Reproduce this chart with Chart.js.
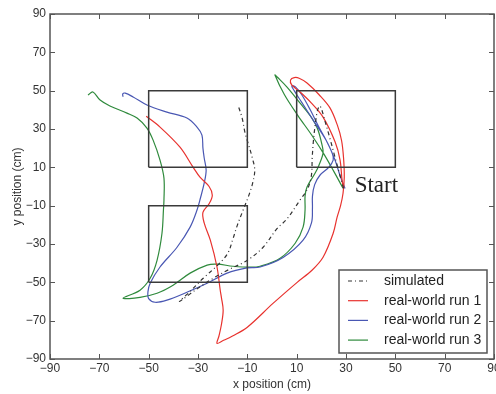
<!DOCTYPE html>
<html>
<head>
<meta charset="utf-8">
<script src="https://cdn.jsdelivr.net/npm/chart.js@4/dist/chart.umd.min.js"></script>
<style>
  html, body { margin: 0; padding: 0; background: #fff; }
  #wrap { width: 496px; height: 394px; }
</style>
</head>
<body>
<div id="wrap"><canvas id="pathChart" width="496" height="394"></canvas></div>
<script>
// axis range
const axisMin = -90;
const axisMax = 90;
const tickStep = 20;

// series labels
const seriesLabels = ['simulated', 'real-world run 1', 'real-world run 2', 'real-world run 3'];

// simulated path (cm)
const simX = [29, 27.5, 25.6, 23.5, 21.5, 19.5, 18.5, 17.5, 16.8, 16.3, 16, 14.5, 11.4, 6, 2, -3.6, -10, -17, -24, -31, -37.5,
  -33, -28, -22, -18, -16, -14, -11.7, -9.5, -8, -7, -8, -9.7, -11, -12.1, -13.8];
const simY = [-1, 6, 15, 25, 34, 42, 40, 32, 24, 15, 6, -1, -7, -17, -22, -31.7, -38.5, -43, -48, -54, -60,
  -54.5, -48, -41, -35, -28, -20, -12.3, -5, 1, 8.5, 15, 22.6, 28.4, 35.7, 42.5];

// real-world run 1
const run1X = [29, 28.4, 27.6, 25.6, 20.7, 16, 11.4, 8, 7.5, 9, 11, 14.2, 19, 23.5, 26.5, 28.2, 29, 29.3, 28.8, 27.8, 26.4,
  24.8, 20.7, 16.2, 10.2, 0.4, -10, -16, -20, -22.3, -21.5, -20.5, -19.8, -20.5, -21, -22.3, -25, -27.5, -28, -25.5,
  -24.2, -25.5, -29.2, -32, -37.3, -45.4, -51];
const run1Y = [-1, 3.3, 13.8, 23.2, 36.2, 43.5, 49.3, 53, 55.5, 56.8, 56.5, 54, 48, 41, 32, 24, 15, 5, -3.5, -10, -16,
  -24.4, -36.9, -43.7, -50, -61, -73.4, -78, -80.5, -81.8, -78, -72, -64.6, -58, -54, -42, -28, -19, -13.5, -9,
  -4.5, 0, 4.9, 10.1, 20.5, 31, 36.7];

// real-world run 2
const run2X = [29.6, 27.5, 25.5, 22, 17, 12, 9, 8, 9.5, 12, 15.5, 19, 22, 24.5, 24.8, 23, 19.5, 17.3, 16.4, 16.4, 16,
  12.6, 4.5, -4.8, -10.1, -18.2, -26.3, -34.5, -42.6, -47.4, -50, -50.3, -49.4, -45.4, -38.5, -33.2, -30.4, -29,
  -27.5, -26.7, -27.5, -28, -28.4, -30.4, -34.5, -42.6, -50.7, -56.3, -59.5, -60.5, -60.4];
const run2Y = [-1, 6, 14, 24, 34, 44, 50, 52.5, 52, 48, 40, 31, 24, 17, 13.8, 10, 6, 1, -5, -11, -19,
  -28, -37, -42, -42.5, -45.2, -50.5, -55.2, -59.3, -60.4, -58.5, -55, -50.5, -42, -31.7, -21.2, -12.3, -6,
  1.7, 8.5, 15, 20, 26.8, 31, 35.7, 38.8, 42.5, 46.7, 48.7, 48.3, 46.8];

// real-world run 3
const run3X = [28.8, 25, 21, 16, 10.5, 5, 1.2, 2.2, 6, 11.4, 16, 18.5, 20.3, 20.7, 19, 17.5, 14.2, 13.4, 13.4, 12.6, 9.4,
  3.3, -4.8, -8.9, -15.8, -22.3, -26.3, -33.2, -40.1, -46.6, -53.5, -60.4, -53.5, -49.4, -46.6, -44.6, -44, -43.8,
  -43.8, -45.4, -48.2, -50.7, -54.7, -58.8, -65.7, -69.7, -72.6, -74.6];
const run3Y = [-0.9, 8, 17, 27, 37, 48, 58.2, 57, 52, 43.5, 36, 30, 21.6, 17.4, 11, 7, -0.3, -5, -12.3, -21.2, -29.6,
  -37.4, -41.6, -42.1, -41.6, -40.5, -41, -45.2, -51.5, -55.7, -57.8, -58.3, -54.1, -47.9, -38.5, -24.4, -12, -7.1,
  4.4, 13.8, 24.2, 30.5, 35.7, 38.3, 42, 45.1, 49.3, 47.7];

// target boxes (cm)
const boxLeft = [-50, -50, 10];
const boxRight = [-10, -10, 50];
const boxBottom = [10, -50, 10];
const boxTop = [50, -10, 50];

// start marker
const startLabel = 'Start';
const startAt = [33.5, 0.5];

function zip(xs, ys) {
  return xs.map((x, i) => ({ x: x, y: ys[i] }));
}

function fmt(v) {
  return v < 0 ? '\u2212' + Math.abs(v) : String(v);
}

const seriesColors = ['#333333', '#e8322e', '#4957b3', '#2f8a3c'];
const pathData = [zip(simX, simY), zip(run1X, run1Y), zip(run2X, run2Y), zip(run3X, run3Y)];

const datasets = [];
for (let i = 0; i < boxLeft.length; i++) {
  datasets.push({
    label: 'box' + i,
    inLegend: false,
    data: zip([boxLeft[i], boxRight[i], boxRight[i], boxLeft[i], boxLeft[i]],
              [boxBottom[i], boxBottom[i], boxTop[i], boxTop[i], boxBottom[i]]),
    showLine: true,
    borderColor: '#3a3a3a',
    borderWidth: 1.5,
    pointRadius: 0,
    tension: 0
  });
}
pathData.forEach((d, i) => {
  datasets.push({
    label: seriesLabels[i],
    inLegend: true,
    data: d,
    showLine: true,
    borderColor: seriesColors[i],
    borderWidth: 1.2,
    borderDash: i === 0 ? [4, 3, 1, 3] : [],
    pointRadius: 0,
    tension: 0.35
  });
});

const framePlugin = {
  id: 'frame',
  afterDraw(chart) {
    const { ctx, chartArea: a, scales } = chart;
    ctx.save();
    ctx.strokeStyle = '#555';
    ctx.lineWidth = 1.5;
    ctx.strokeRect(a.left, a.top, a.right - a.left, a.bottom - a.top);
    // inward ticks on all sides
    ctx.lineWidth = 1;
    const tl = 5;
    scales.x.ticks.forEach(t => {
      const px = Math.round(scales.x.getPixelForValue(t.value)) + 0.5;
      ctx.beginPath();
      ctx.moveTo(px, a.bottom); ctx.lineTo(px, a.bottom - tl);
      ctx.moveTo(px, a.top); ctx.lineTo(px, a.top + tl);
      ctx.stroke();
    });
    scales.y.ticks.forEach(t => {
      const py = Math.round(scales.y.getPixelForValue(t.value)) + 0.5;
      ctx.beginPath();
      ctx.moveTo(a.left, py); ctx.lineTo(a.left + tl, py);
      ctx.moveTo(a.right, py); ctx.lineTo(a.right - tl, py);
      ctx.stroke();
    });

    // start label
    ctx.fillStyle = '#222';
    ctx.font = '23px "Liberation Serif", "DejaVu Serif", serif';
    ctx.textAlign = 'left';
    ctx.textBaseline = 'middle';
    ctx.fillText(startLabel, scales.x.getPixelForValue(startAt[0]), scales.y.getPixelForValue(startAt[1]));

    // legend box
    const items = chart.data.datasets.filter(d => d.inLegend);
    const bw = 148, bh = 83;
    const bx = a.right - 7 - bw, by = a.bottom - 6 - bh;
    ctx.fillStyle = '#fff';
    ctx.fillRect(bx, by, bw, bh);
    ctx.strokeStyle = '#555';
    ctx.lineWidth = 1.5;
    ctx.strokeRect(bx, by, bw, bh);
    ctx.font = '14px "Liberation Sans", Arial, sans-serif';
    ctx.textBaseline = 'middle';
    items.forEach((d, i) => {
      const ry = by + 11 + i * 19.7;
      ctx.strokeStyle = d.borderColor;
      ctx.lineWidth = 1.2;
      ctx.setLineDash(d.borderDash || []);
      ctx.beginPath();
      ctx.moveTo(bx + 9, ry); ctx.lineTo(bx + 29, ry);
      ctx.stroke();
      ctx.setLineDash([]);
      ctx.fillStyle = '#222';
      ctx.fillText(d.label, bx + 45, ry);
    });
    ctx.restore();
  }
};

const axisFont = { family: '"Liberation Sans", Arial, sans-serif', size: 12 };

new Chart(document.getElementById('pathChart').getContext('2d'), {
  type: 'scatter',
  data: { datasets: datasets },
  options: {
    responsive: false,
    animation: false,
    layout: { padding: { top: 14, right: 2, left: 0, bottom: 0 } },
    plugins: { legend: { display: false }, tooltip: { enabled: false } },
    scales: {
      x: {
        min: axisMin, max: axisMax,
        grid: { display: false, drawTicks: false },
        border: { display: false },
        ticks: { stepSize: tickStep, padding: 2, color: '#333', font: axisFont, maxRotation: 0, callback: v => fmt(v) },
        title: { display: true, text: 'x position (cm)', color: '#333', font: axisFont, padding: { top: 0, bottom: 2 } },
        afterFit: s => { s.height = 35; s.paddingLeft = 0; s.paddingRight = 0; }
      },
      y: {
        min: axisMin, max: axisMax,
        grid: { display: false, drawTicks: false },
        border: { display: false },
        ticks: { stepSize: tickStep, padding: 4, color: '#333', font: axisFont, callback: v => fmt(v) },
        title: { display: true, text: 'y position (cm)', color: '#333', font: axisFont, padding: { top: 10, bottom: 0 } },
        afterFit: s => { s.width = 50; s.paddingTop = 0; s.paddingBottom = 0; }
      }
    }
  },
  plugins: [framePlugin]
});
</script>
</body>
</html>
